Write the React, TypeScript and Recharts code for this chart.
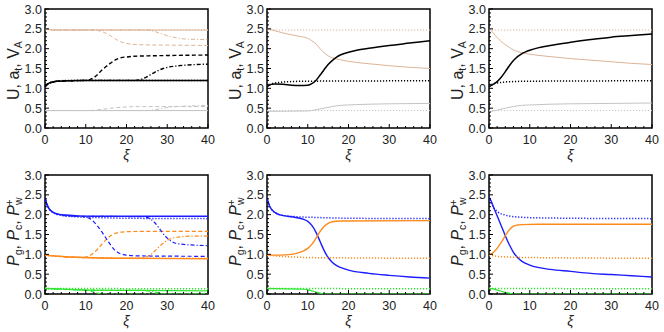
import { LineChart, Line, XAxis, YAxis, ReferenceArea, Label } from 'recharts';

// xi axis and pressure/velocity axis ticks
const X_TICKS = [0, 2, 4, 6, 8, 10, 12, 14, 16, 18, 20, 22, 24, 26, 28, 30, 32, 34, 36, 38, 40];
const Y_TICKS = [
  0, 0.1, 0.2, 0.3, 0.4, 0.5, 0.6, 0.7, 0.8, 0.9, 1, 1.1, 1.2, 1.3, 1.4, 1.5,
  1.6, 1.7, 1.8, 1.9, 2, 2.1, 2.2, 2.3, 2.4, 2.5, 2.6, 2.7, 2.8, 2.9, 3,
];

// ---- top row: U (black), a_t (gray), V_A (tan)
const p1U = [[0, 1.04], [0.5, 1.1], [1, 1.13], [2, 1.16], [3, 1.18], [5, 1.19], [8, 1.2], [40, 1.2]];
const p1Udot = [[0, 1.06], [1, 1.13], [3, 1.18], [6, 1.2], [40, 1.2]];
const p1Udash = [[0, 1.04], [1, 1.13], [3, 1.18], [6, 1.19], [10, 1.2], [11, 1.22], [12, 1.27], [13, 1.36], [14, 1.46], [15, 1.55], [16, 1.63], [17, 1.7], [18, 1.75], [19, 1.78], [20, 1.79], [22, 1.81], [26, 1.82], [32, 1.83], [40, 1.84]];
const p1Udd = [[0, 1.04], [1, 1.13], [3, 1.18], [6, 1.19], [10, 1.2], [22, 1.2], [23, 1.21], [24, 1.24], [25, 1.29], [26, 1.35], [27, 1.41], [28, 1.46], [29, 1.5], [30, 1.53], [32, 1.56], [34, 1.58], [37, 1.6], [40, 1.61]];
const p1V = [[0, 2.5], [1, 2.48], [3, 2.47], [40, 2.47]];
const p1Vdot = [[0, 2.5], [2, 2.47], [40, 2.47]];
const p1Vdash = [[0, 2.5], [2, 2.47], [12, 2.47], [14, 2.43], [16, 2.33], [18, 2.2], [20, 2.13], [23, 2.1], [30, 2.09], [40, 2.08]];
const p1Vdd = [[0, 2.5], [2, 2.47], [25, 2.47], [27, 2.43], [29, 2.36], [31, 2.3], [33, 2.26], [35, 2.24], [40, 2.23]];
const p1A = [[0, 0.44], [40, 0.44]];
const p1Adot = [[0, 0.44], [40, 0.44]];
const p1Adash = [[0, 0.44], [11, 0.44], [14, 0.47], [17, 0.51], [20, 0.53], [23, 0.54], [40, 0.54]];
const p1Add = [[0, 0.44], [25, 0.44], [28, 0.48], [31, 0.53], [34, 0.55], [37, 0.56], [40, 0.57]];

const p2U = [[0, 1.04], [1, 1.1], [2, 1.11], [4, 1.1], [6, 1.08], [8, 1.07], [10, 1.08], [11, 1.12], [12, 1.2], [13, 1.33], [14, 1.47], [15, 1.6], [16, 1.7], [17, 1.78], [18, 1.84], [19, 1.88], [20, 1.91], [22, 1.96], [25, 2.01], [30, 2.08], [35, 2.14], [40, 2.2]];
const p2Udot = [[0, 1.04], [1, 1.11], [3, 1.15], [6, 1.17], [10, 1.18], [40, 1.19]];
const p2V = [[0, 2.51], [2, 2.45], [5, 2.37], [8, 2.31], [10, 2.26], [11, 2.2], [12, 2.12], [13, 2.0], [14, 1.9], [15, 1.82], [16, 1.77], [18, 1.72], [20, 1.68], [25, 1.62], [30, 1.57], [35, 1.53], [40, 1.5]];
const p2Vdot = [[0, 2.47], [40, 2.47]];
const p2A = [[0, 0.42], [10, 0.43], [12, 0.46], [14, 0.5], [16, 0.54], [18, 0.57], [22, 0.59], [30, 0.61], [40, 0.62]];
const p2Adot = [[0, 0.44], [40, 0.44]];

const p3U = [[0, 1.04], [1, 1.1], [2, 1.17], [3, 1.28], [4, 1.42], [5, 1.57], [6, 1.7], [7, 1.8], [8, 1.87], [9, 1.92], [10, 1.96], [12, 2.02], [15, 2.08], [20, 2.16], [25, 2.23], [30, 2.29], [35, 2.33], [40, 2.37]];
const p3Udot = [[0, 1.04], [1, 1.11], [3, 1.15], [6, 1.17], [10, 1.18], [40, 1.19]];
const p3V = [[0, 2.52], [1, 2.4], [2, 2.28], [3, 2.18], [4, 2.1], [5, 2.03], [6, 1.97], [7, 1.93], [8, 1.9], [10, 1.86], [15, 1.8], [20, 1.75], [25, 1.71], [30, 1.67], [35, 1.63], [40, 1.6]];
const p3Vdot = [[0, 2.47], [40, 2.47]];
const p3A = [[0, 0.41], [2, 0.45], [4, 0.5], [6, 0.54], [8, 0.57], [10, 0.58], [15, 0.6], [20, 0.61], [30, 0.62], [40, 0.63]];
const p3Adot = [[0, 0.44], [40, 0.44]];

// ---- bottom row: P_g (blue), P_c (orange), P_w+ (green)
const p4G = [[0, 2.42], [0.5, 2.25], [1, 2.15], [2, 2.06], [3, 2.02], [5, 1.99], [8, 1.97], [12, 1.96], [40, 1.96]];
const p4Gdot = [[0, 2.42], [1, 2.15], [2, 2.05], [4, 1.98], [7, 1.95], [12, 1.93], [20, 1.91], [40, 1.9]];
const p4Gdash = [[0, 2.42], [1, 2.15], [2, 2.06], [4, 1.99], [8, 1.96], [10, 1.94], [11, 1.9], [12, 1.82], [13, 1.7], [14, 1.56], [15, 1.4], [16, 1.25], [17, 1.12], [18, 1.04], [19, 1.0], [20, 0.98], [23, 0.96], [40, 0.95]];
const p4Gdd = [[0, 2.42], [1, 2.15], [2, 2.06], [4, 1.99], [8, 1.96], [24, 1.95], [25, 1.93], [26, 1.88], [27, 1.79], [28, 1.66], [29, 1.52], [30, 1.41], [31, 1.33], [32, 1.28], [34, 1.25], [37, 1.23], [40, 1.22]];
const p4C = [[0, 0.98], [2, 0.96], [5, 0.94], [10, 0.92], [20, 0.9], [40, 0.89]];
const p4Cdot = [[0, 0.98], [2, 0.96], [5, 0.94], [10, 0.92], [20, 0.9], [40, 0.9]];
const p4Cdash = [[0, 0.98], [5, 0.94], [9, 0.92], [10, 0.93], [11, 0.97], [12, 1.04], [13, 1.14], [14, 1.26], [15, 1.37], [16, 1.46], [17, 1.52], [18, 1.55], [20, 1.57], [25, 1.58], [40, 1.58]];
const p4Cdd = [[0, 0.98], [3, 0.95], [8, 0.92], [22, 0.9], [24, 0.91], [25, 0.94], [26, 1.0], [27, 1.09], [28, 1.19], [29, 1.28], [30, 1.35], [31, 1.4], [33, 1.44], [36, 1.46], [40, 1.46]];
const p4W = [[0, 0.14], [5, 0.12], [10, 0.1], [20, 0.09], [40, 0.08]];
const p4Wdot = [[0, 0.14], [40, 0.13]];
const p4Wdash = [[0, 0.14], [5, 0.12], [10, 0.1], [11, 0.08], [12, 0.05], [13, 0.02], [14, 0], [40, 0]];
const p4Wdd = [[0, 0.14], [10, 0.1], [24, 0.09], [26, 0.07], [27, 0.05], [28, 0.02], [29, 0], [40, 0]];

const p5G = [[0, 2.42], [0.5, 2.25], [1, 2.15], [2, 2.05], [3, 2.0], [5, 1.96], [7, 1.93], [9, 1.88], [10, 1.83], [11, 1.73], [12, 1.56], [13, 1.33], [14, 1.1], [15, 0.92], [16, 0.8], [17, 0.72], [18, 0.67], [20, 0.6], [25, 0.52], [30, 0.47], [35, 0.43], [40, 0.4]];
const p5Gdot = [[0, 2.42], [1, 2.15], [2, 2.05], [4, 1.98], [7, 1.95], [12, 1.93], [20, 1.91], [40, 1.9]];
const p5C = [[0, 0.98], [3, 0.98], [6, 1.0], [8, 1.05], [9, 1.09], [10, 1.15], [11, 1.25], [12, 1.4], [13, 1.57], [14, 1.7], [15, 1.78], [16, 1.82], [18, 1.84], [40, 1.85]];
const p5Cdot = [[0, 0.98], [2, 0.96], [5, 0.94], [10, 0.92], [20, 0.91], [40, 0.9]];
const p5W = [[0, 0.14], [5, 0.13], [9, 0.12], [10, 0.11], [11, 0.08], [12, 0.05], [13, 0.02], [14, 0], [40, 0]];
const p5Wdot = [[0, 0.14], [40, 0.13]];

const p6G = [[0, 2.45], [0.5, 2.35], [1, 2.22], [2, 1.97], [3, 1.72], [4, 1.47], [5, 1.24], [6, 1.05], [7, 0.92], [8, 0.83], [10, 0.73], [12, 0.67], [15, 0.62], [20, 0.57], [25, 0.52], [30, 0.49], [35, 0.46], [40, 0.43]];
const p6Gdot = [[0, 2.45], [1, 2.2], [2, 2.08], [4, 1.99], [7, 1.94], [12, 1.92], [20, 1.91], [40, 1.9]];
const p6C = [[0, 0.98], [1, 1.04], [2, 1.15], [3, 1.3], [4, 1.47], [5, 1.62], [6, 1.71], [7, 1.74], [8, 1.75], [12, 1.76], [40, 1.76]];
const p6Cdot = [[0, 0.98], [2, 0.95], [5, 0.93], [10, 0.92], [40, 0.9]];
const p6W = [[0, 0.14], [1, 0.13], [2, 0.1], [3, 0.07], [4, 0.04], [5, 0.02], [6, 0], [40, 0]];
const p6Wdot = [[0, 0.14], [40, 0.13]];

const BLACK = '#000000';
const TAN = '#dcb497';
const GRAY = '#c4c4c4';
const BLUE = '#1c1cff';
const ORANGE = '#ff8a1c';
const GREEN = '#2ee62e';

const DASH = '4 2.5';
const DOT = '1.2 1.8';
const DASHDOT = '4 2 1.2 2';

const FONT = '"Liberation Sans", Arial, sans-serif';

type Series = { pts: number[][]; color: string; dash?: string; w?: number };

const s = (pts: number[][], color: string, dash?: string, w = 1.2): Series => ({ pts, color, dash, w });

const topLeft: Series[] = [
  s(p1A, GRAY, undefined, 1), s(p1Adot, GRAY, DOT, 1), s(p1Adash, GRAY, DASH, 1), s(p1Add, GRAY, DASHDOT, 1),
  s(p1V, TAN, undefined, 1), s(p1Vdot, TAN, DOT, 1), s(p1Vdash, TAN, DASH, 1), s(p1Vdd, TAN, DASHDOT, 1),
  s(p1Udash, BLACK, DASH, 1.4), s(p1Udd, BLACK, DASHDOT, 1.4), s(p1Udot, BLACK, DOT, 1.5), s(p1U, BLACK, undefined, 1.5),
];
const topMid: Series[] = [
  s(p2A, GRAY, undefined, 1), s(p2Adot, GRAY, DOT, 1),
  s(p2V, TAN, undefined, 1), s(p2Vdot, TAN, DOT, 1),
  s(p2Udot, BLACK, DOT, 1.5), s(p2U, BLACK, undefined, 1.5),
];
const topRight: Series[] = [
  s(p3A, GRAY, undefined, 1), s(p3Adot, GRAY, DOT, 1),
  s(p3V, TAN, undefined, 1), s(p3Vdot, TAN, DOT, 1),
  s(p3Udot, BLACK, DOT, 1.5), s(p3U, BLACK, undefined, 1.5),
];
const botLeft: Series[] = [
  s(p4W, GREEN), s(p4Wdot, GREEN, DOT, 1.5), s(p4Wdash, GREEN, DASH), s(p4Wdd, GREEN, DASHDOT),
  s(p4C, ORANGE, undefined, 1.4), s(p4Cdot, ORANGE, DOT, 1.4), s(p4Cdash, ORANGE, DASH), s(p4Cdd, ORANGE, DASHDOT),
  s(p4G, BLUE, undefined, 1.4), s(p4Gdot, BLUE, DOT, 1.5), s(p4Gdash, BLUE, DASH), s(p4Gdd, BLUE, DASHDOT),
];
const botMid: Series[] = [
  s(p5W, GREEN), s(p5Wdot, GREEN, DOT, 1.5),
  s(p5G, BLUE, undefined, 1.4), s(p5Gdot, BLUE, DOT, 1.5),
  s(p5C, ORANGE, undefined, 1.4), s(p5Cdot, ORANGE, DOT, 1.5),
];
const botRight: Series[] = [
  s(p6W, GREEN), s(p6Wdot, GREEN, DOT, 1.5),
  s(p6G, BLUE, undefined, 1.4), s(p6Gdot, BLUE, DOT, 1.5),
  s(p6C, ORANGE, undefined, 1.4), s(p6Cdot, ORANGE, DOT, 1.5),
];

const XTick = (props: any) => {
  const { x, y, payload } = props;
  const major = payload.value % 10 === 0;
  const axisY = y - 6;
  return (
    <g>
      <line x1={x} x2={x} y1={axisY} y2={axisY - (major ? 4 : 2)} stroke="#000" strokeWidth={1} />
      {major && (
        <text x={x} y={y + 10} textAnchor="middle" fontSize={12.5} fontFamily={FONT} fill="#222">
          {payload.value}
        </text>
      )}
    </g>
  );
};

const YTick = (props: any) => {
  const { x, y, payload } = props;
  const v = payload.value;
  const major = Math.abs(v * 2 - Math.round(v * 2)) < 1e-6;
  const axisX = x + 3;
  return (
    <g>
      <line x1={axisX} x2={axisX + (major ? 4 : 2)} y1={y} y2={y} stroke="#000" strokeWidth={1} />
      {major && (
        <text x={x} y={y + 4.5} textAnchor="end" fontSize={12.5} fontFamily={FONT} fill="#222">
          {v.toFixed(1)}
        </text>
      )}
    </g>
  );
};

// rotated axis titles, anchored at their start (bottom end) so subscripts don't break centring
const TopLabel = () => (
  <text transform="translate(19, 100) rotate(-90)" fontSize={16} fontFamily={FONT} fill="#222">
    U, a<tspan dy={3} fontSize={10.5}>t</tspan>
    <tspan dy={-3}>, V</tspan>
    <tspan dy={3} fontSize={10.5}>A</tspan>
  </text>
);

const BottomLabel = () => (
  <text transform="translate(19, 100) rotate(-90)" fontSize={16} fontFamily={FONT} fill="#222">
    <tspan fontStyle="italic">P</tspan>
    <tspan dy={3} fontSize={10.5}>g</tspan>
    <tspan dy={-3}>, </tspan>
    <tspan fontStyle="italic">P</tspan>
    <tspan dy={3} fontSize={10.5}>c</tspan>
    <tspan dy={-3}>, </tspan>
    <tspan fontStyle="italic">P</tspan>
    <tspan dy={3} fontSize={10.5}>w</tspan>
    <tspan dx={-8} dy={-9} fontSize={10.5}>+</tspan>
  </text>
);

const XLabel = () => (
  <text x={126.5} y={159.5} textAnchor="middle" fontSize={14} fontStyle="italic" fontFamily={FONT} fill="#222">
    ξ
  </text>
);

function Panel({ series, top }: { series: Series[]; top: boolean }) {
  return (
    <LineChart width={222} height={166} margin={{ top: 9, right: 14, bottom: 0, left: 0 }}>
      <XAxis
        type="number"
        dataKey="x"
        domain={[0, 40]}
        ticks={X_TICKS}
        interval={0}
        allowDataOverflow
        axisLine={false}
        tickLine={false}
        tickSize={0}
        tickMargin={6}
        height={38}
        tick={<XTick />}
      >
        <Label content={<XLabel />} />
      </XAxis>
      <YAxis
        type="number"
        domain={[0, 3]}
        ticks={Y_TICKS}
        interval={0}
        allowDataOverflow
        axisLine={false}
        tickLine={false}
        tickSize={0}
        tickMargin={3}
        width={45}
        tick={<YTick />}
      >
        <Label content={top ? <TopLabel /> : <BottomLabel />} />
      </YAxis>
      {series.map((sr, i) => (
        <Line
          key={i}
          data={sr.pts.map(([x, y]) => ({ x, y }))}
          dataKey="y"
          type="monotone"
          stroke={sr.color}
          strokeWidth={sr.w}
          strokeDasharray={sr.dash}
          dot={false}
          activeDot={false}
          isAnimationActive={false}
        />
      ))}
      <ReferenceArea x1={0} x2={40} y1={0} y2={3} fill="none" fillOpacity={0} stroke="#000" strokeWidth={1.5} ifOverflow="visible" />
    </LineChart>
  );
}

const PANELS = [
  { series: topLeft, top: true, left: 0, y: 0 },
  { series: topMid, top: true, left: 222, y: 0 },
  { series: topRight, top: true, left: 444, y: 0 },
  { series: botLeft, top: false, left: 0, y: 166 },
  { series: botMid, top: false, left: 222, y: 166 },
  { series: botRight, top: false, left: 444, y: 166 },
];

export default function App() {
  return (
    <div style={{ position: 'absolute', left: 0, top: 0, width: 664, height: 332, overflow: 'hidden', background: '#fff' }}>
      {PANELS.map((p, i) => (
        <div key={i} style={{ position: 'absolute', left: p.left, top: p.y, width: 222, height: 166 }}>
          <Panel series={p.series} top={p.top} />
        </div>
      ))}
    </div>
  );
}
